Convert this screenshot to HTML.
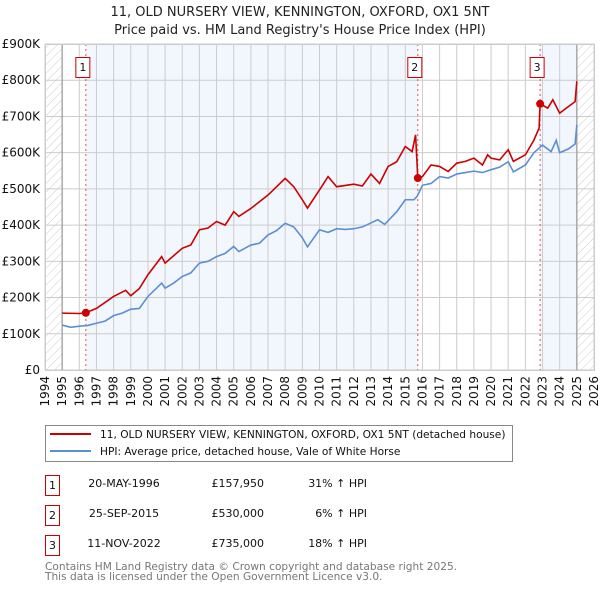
<!DOCTYPE html>
<html><head><meta charset="utf-8"><style>
body{margin:0;background:#fff}
svg{display:block;font-family:"DejaVu Sans","Liberation Sans",sans-serif}
</style></head><body>
<svg id="chart" width="600" height="590" viewBox="0 0 600 590">
<defs>
<pattern id="hatch" width="6" height="6" patternUnits="userSpaceOnUse" patternTransform="rotate(45)">
<line x1="0" y1="0" x2="0" y2="6" stroke="#ccc" stroke-width="1"/>
</pattern>
</defs>
<text x="300" y="16" text-anchor="middle" font-size="13" fill="#222">11, OLD NURSERY VIEW, KENNINGTON, OXFORD, OX1 5NT</text>
<text x="300" y="34" text-anchor="middle" font-size="13" fill="#222">Price paid vs. HM Land Registry's House Price Index (HPI)</text>
<g id="plot"></g>
<g>
<rect x="45.5" y="425.5" width="467" height="36" fill="#fff" stroke="#888"/>
<line x1="50" y1="434" x2="91" y2="434" stroke="#cc0000" stroke-width="2"/>
<text x="100" y="438" font-size="10.6" fill="#111">11, OLD NURSERY VIEW, KENNINGTON, OXFORD, OX1 5NT (detached house)</text>
<line x1="50" y1="451" x2="91" y2="451" stroke="#5b8fd4" stroke-width="2"/>
<text x="100" y="455" font-size="10.6" fill="#111">HPI: Average price, detached house, Vale of White Horse</text>
</g>
<g font-size="11" fill="#111">
<rect x="45.5" y="475.5" width="14" height="20" fill="#fff" stroke="#cc0000"/><text x="52.5" y="489" text-anchor="middle">1</text>
<text x="124" y="487" text-anchor="middle">20-MAY-1996</text><text x="264" y="487" text-anchor="end">£157,950</text><text x="367" y="487" text-anchor="end">31% ↑ HPI</text>
<rect x="45.5" y="505.5" width="14" height="20" fill="#fff" stroke="#cc0000"/><text x="52.5" y="519" text-anchor="middle">2</text>
<text x="124" y="517" text-anchor="middle">25-SEP-2015</text><text x="264" y="517" text-anchor="end">£530,000</text><text x="367" y="517" text-anchor="end">6% ↑ HPI</text>
<rect x="45.5" y="535.5" width="14" height="20" fill="#fff" stroke="#cc0000"/><text x="52.5" y="549" text-anchor="middle">3</text>
<text x="124" y="547" text-anchor="middle">11-NOV-2022</text><text x="264" y="547" text-anchor="end">£735,000</text><text x="367" y="547" text-anchor="end">18% ↑ HPI</text>
</g>
<text x="45" y="570" font-size="10.6" fill="#777">Contains HM Land Registry data © Crown copyright and database right 2025.</text>
<text x="45" y="580" font-size="10.6" fill="#777">This data is licensed under the Open Government Licence v3.0.</text>
</svg>
<script>
const hpiYears=[1995,1995.5,1996,1996.5,1997,1997.5,1998,1998.5,1999,1999.5,2000,2000.5,2000.8,2001,2001.5,2002,2002.5,2003,2003.5,2004,2004.5,2005,2005.3,2006,2006.5,2007,2007.5,2008,2008.5,2009,2009.3,2010,2010.5,2011,2011.5,2012,2012.5,2013,2013.4,2013.8,2014.5,2015,2015.5,2015.7,2016,2016.5,2017,2017.5,2018,2018.5,2019,2019.5,2020,2020.5,2021,2021.3,2022,2022.5,2023,2023.5,2023.8,2024,2024.5,2024.9,2025];
const hpiValues=[124,118,121,123,129,135,150,157,168,170,203,226,240,226,240,258,268,295,300,313,322,341,327,345,350,373,385,405,395,365,340,387,380,390,388,390,395,406,415,402,437,470,470,480,510,515,534,530,541,545,549,545,553,560,575,547,566,600,621,603,634,600,610,624,677];
const ppYears=[1995,1996,1996.38,1997,1998,1998.7,1999,1999.5,2000,2000.8,2001,2002,2002.5,2003,2003.5,2004,2004.5,2005,2005.3,2006,2007,2008,2008.5,2009,2009.3,2010,2010.5,2011,2012,2012.5,2013,2013.5,2014,2014.5,2015,2015.4,2015.6,2015.73,2016,2016.5,2017,2017.5,2018,2018.5,2019,2019.5,2019.8,2020,2020.5,2021,2021.3,2022,2022.5,2022.8,2022.86,2023.3,2023.6,2024,2024.5,2024.9,2025];
const ppValues=[157,156,158,170,203,220,205,225,263,313,295,336,345,387,392,410,400,437,424,446,483,529,506,470,447,497,534,506,513,508,541,515,562,575,617,603,649,530,534,566,562,548,571,576,585,566,594,585,580,608,576,594,635,668,735,723,746,709,727,741,797];
const saleYears=[1996.38,2015.73,2022.86];
const saleValues=[157.95,530,735];
const saleLabels=["1","2","3"];
const yTicks=[0,100,200,300,400,500,600,700,800,900];
const yTickLabels=["£0","£100K","£200K","£300K","£400K","£500K","£600K","£700K","£800K","£900K"];
const xTicks=[1994,1995,1996,1997,1998,1999,2000,2001,2002,2003,2004,2005,2006,2007,2008,2009,2010,2011,2012,2013,2014,2015,2016,2017,2018,2019,2020,2021,2022,2023,2024,2025,2026];

const X0=45,X1=594,Y0=370,Y1=44,xmin=1994,xmax=2026,ymax=900;
const sx=v=>X0+(v-xmin)/(xmax-xmin)*(X1-X0);
const sy=v=>Y0-v/ymax*(Y0-Y1);
const NS="http://www.w3.org/2000/svg";
const g=document.getElementById('plot');
function mk(t,a,p){const e=document.createElementNS(NS,t);for(const k in a)e.setAttribute(k,a[k]);(p||g).appendChild(e);return e;}

[[saleYears[0],saleYears[1]],[saleYears[2],2025]].forEach(b=>{
 const r=mk('rect',{x:sx(b[0]),y:Y1,width:sx(b[1])-sx(b[0]),height:Y0-Y1,fill:'#eef3fc',opacity:0.75});
 
 
});
[[1994,1995],[2025,2026]].forEach(b=>{
 const r=mk('rect',{x:sx(b[0]),y:Y1,width:sx(b[1])-sx(b[0]),height:Y0-Y1,fill:'url(#hatch)'});
 
 
});
xTicks.forEach(t=>{
 const l=mk('line',{x1:sx(t),x2:sx(t),y1:Y1,y2:Y0,stroke:'#ccc','stroke-width':1});
 
 
 const tx=mk('text',{x:0,y:0,'font-size':12,fill:'#111','text-anchor':'end',transform:`translate(${sx(t)+4},${Y0+6}) rotate(-90)`});
 tx.textContent=t;
 
 
});
yTicks.forEach((t,i)=>{
 const l=mk('line',{x1:X0,x2:X1,y1:sy(t),y2:sy(t),stroke:'#ccc','stroke-width':1});
 
 
 const tx=mk('text',{x:40,y:sy(t)+4,'font-size':12,fill:'#111','text-anchor':'end'});
 tx.textContent=yTickLabels[i];
 
 
});
[1995,2025].forEach(t=>{
 const l=mk('line',{x1:sx(t),x2:sx(t),y1:Y1,y2:Y0,stroke:'#999','stroke-width':1.2});
 
 
});
saleYears.forEach(s=>{
 const l=mk('line',{x1:sx(s),x2:sx(s),y1:Y1,y2:Y0,stroke:'#e05050','stroke-width':1,'stroke-dasharray':'2,3'});
 
 
});
const hp=mk('polyline',{points:hpiYears.map((y,i)=>sx(y)+','+sy(hpiValues[i])).join(' '),fill:'none',stroke:'#5b8fd4','stroke-width':1.6});


const pp=mk('polyline',{points:ppYears.map((y,i)=>sx(y)+','+sy(ppValues[i])).join(' '),fill:'none',stroke:'#cc0000','stroke-width':1.6});


saleYears.forEach((s,i)=>{
 const c=mk('circle',{cx:sx(s),cy:sy(saleValues[i]),r:4,fill:'#cc0000'});
 
 
 const r=mk('rect',{x:sx(s)-10,y:57.5,width:14,height:20,fill:'#fff',stroke:'#cc0000'});
 
 
 const t=mk('text',{x:sx(s)-3,y:71,'font-size':11,fill:'#111','text-anchor':'middle'});
 t.textContent=saleLabels[i];
 
 
});
const fr=mk('rect',{x:X0+0.5,y:Y1+0.5,width:X1-X0,height:Y0-Y1,fill:'none',stroke:'#ccc'});


</script>
</body></html>
